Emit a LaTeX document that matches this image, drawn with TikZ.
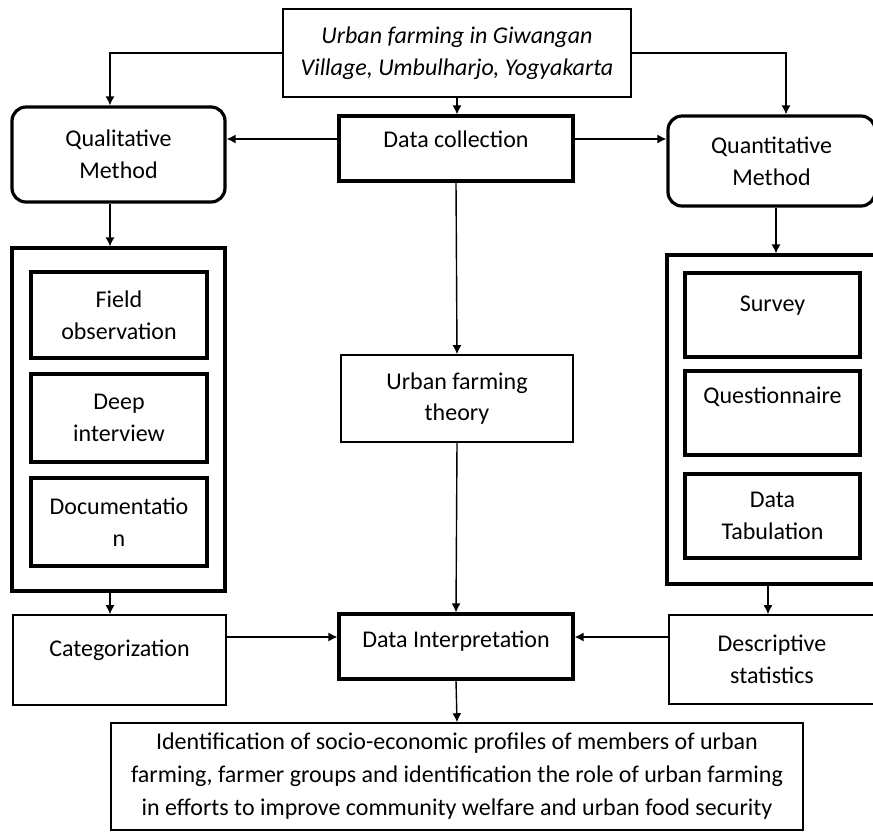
\documentclass[tikz,border=0pt]{standalone}
\usepackage{fontspec}
\setmainfont{Carlito}
\usepackage{tikz}
\usetikzlibrary{arrows.meta,calc}
\tikzset{
  plainbox/.style={draw, line width=0.8pt, align=center, inner sep=0pt, font=\fontsize{12}{15.8}\selectfont},
  boldbox/.style={plainbox, line width=1.6pt},
  methodbox/.style={boldbox, rounded corners=7pt},
  groupbox/.style={draw, line width=1.6pt, inner sep=0pt},
  textup/.style={text height=8pt, text depth=#1},
  flowarrow/.style={-{Latex[length=4.5pt,width=4.5pt]}, line width=0.7pt}
}

\begin{document}
\begin{tikzpicture}[x=0.5pt,y=-0.5pt]
\useasboundingbox (0,0) rectangle (873,832);
\node[plainbox, minimum width=174pt, minimum height=44pt, font=\fontsize{12}{15.8}\selectfont\itshape] (site) at (457,53) {Urban farming in Giwangan\\Village, Umbulharjo, Yogyakarta};
\node[boldbox, minimum width=117pt, minimum height=32.5pt, textup=9.5pt] (collect) at (456,148.5) {Data collection};
\node[methodbox, minimum width=106.5pt, minimum height=47.5pt] (qual) at (118.5,154.5) {Qualitative\\Method};
\node[methodbox, minimum width=103.5pt, minimum height=45pt] (quant) at (771.5,161) {Quantitative\\Method};
\node[groupbox, minimum width=106.5pt, minimum height=171.5pt] (qualgroup) at (118.5,419.5) {};
\node[boldbox, minimum width=88pt, minimum height=43pt] (field) at (119,315) {Field\\observation};
\node[boldbox, minimum width=88pt, minimum height=44pt] (interview) at (119,418) {Deep\\interview};
\node[boldbox, minimum width=88pt, minimum height=44pt] (docu) at (119,522) {Documentatio\\n};
\node[groupbox, minimum width=104pt, minimum height=164.5pt] (quantgroup) at (771,419.5) {};
\node[boldbox, minimum width=87.5pt, minimum height=42pt, textup=12pt] (survey) at (772.5,315) {Survey};
\node[boldbox, minimum width=87.5pt, minimum height=42pt, textup=18pt] (quest) at (772.5,413) {Questionnaire};
\node[boldbox, minimum width=87.5pt, minimum height=42pt] (tabul) at (772.5,516) {Data\\Tabulation};
\node[plainbox, minimum width=116pt, minimum height=43.5pt] (theory) at (457,398.5) {Urban farming\\theory};
\node[plainbox, minimum width=106.5pt, minimum height=45pt, textup=12pt] (categ) at (119.5,660) {Categorization};
\node[boldbox, minimum width=117pt, minimum height=32.5pt, textup=7.5pt] (interp) at (456,646.5) {Data Interpretation};
\node[plainbox, minimum width=103pt, minimum height=44.5pt] (descr) at (772,659.5) {Descriptive\\statistics};
\node[plainbox, minimum width=346pt, minimum height=53.5pt, font=\fontsize{12}{16.5}\selectfont] (result) at (457,776.5) {Identification of socio-economic profiles of members of urban\\farming, farmer groups and identification the role of urban farming\\in efforts to improve community welfare and urban food security};
\draw[flowarrow] (site.west) -| ([xshift=-4.25pt]qual.north);
\draw[flowarrow] (site.east) -| ([xshift=7.25pt]quant.north);
\draw[flowarrow] (site.south) -- (site.south |- collect.north);
\draw[flowarrow] ([yshift=4.75pt]collect.west) -- ([yshift=4.75pt]collect.west -| qual.east);
\draw[flowarrow] ([yshift=4.75pt]collect.east) -- ([yshift=4.75pt]collect.east -| quant.west);
\draw[flowarrow] ([xshift=-4.25pt]qual.south) -- ([xshift=-4.25pt]qual.south |- qualgroup.north);
\draw[flowarrow] ([xshift=2.25pt]quant.south) -- ([xshift=2.25pt]quant.south |- quantgroup.north);
\draw[flowarrow] (collect.south) -- (theory.north);
\draw[flowarrow] (theory.south) -- (interp.north);
\draw[flowarrow] ([xshift=-4.25pt]qualgroup.south) -- ([xshift=-4.25pt]qualgroup.south |- categ.north);
\draw[flowarrow] ([xshift=-1.5pt]quantgroup.south) -- ([xshift=-1.5pt]quantgroup.south |- descr.north);
\draw[flowarrow] ([yshift=11.5pt]categ.east) -- ([yshift=11.5pt]categ.east -| interp.west);
\draw[flowarrow] ([yshift=11.25pt]descr.west) -- ([yshift=11.25pt]descr.west -| interp.east);
\draw[flowarrow] (interp.south) -- (result.north);
\end{tikzpicture}
\end{document}
